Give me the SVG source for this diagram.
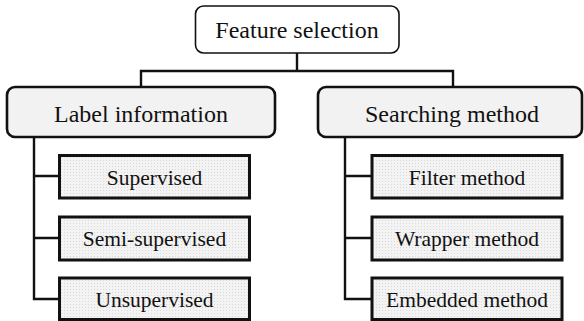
<svg xmlns="http://www.w3.org/2000/svg" width="584" height="321" viewBox="0 0 584 321">
<defs>
<pattern id="dots" width="3" height="3" patternUnits="userSpaceOnUse">
<rect width="3" height="3" fill="#f3f3f3"/>
<rect x="1" y="1" width="1" height="1" fill="#d9d9d9"/>
</pattern>
</defs>
<style>
text{fill:#111;text-anchor:middle}
.main{font-size:24px}
.sub{font-size:21.5px}
.root{fill:#fff;stroke:#111;stroke-width:1.6}
.cat{fill:#f2f2f2;stroke:#111;stroke-width:2.6}
.leaf{fill:url(#dots);stroke:#111;stroke-width:3}
.conn{fill:none;stroke:#111;stroke-width:2.4}
</style>
<rect width="584" height="321" fill="#fff"/>
<g id="connectors">
<path class="conn" d="M297,53 V71 M141,87 V71 H453 V87"/>
<path class="conn" d="M34,137 V299 H59.5 M34,176 H59.5 M34,238 H59.5"/>
<path class="conn" d="M345,137 V299 H372 M345,176 H372 M345,238 H372"/>
</g>
<g font-family="'Liberation Serif', 'DejaVu Serif', 'Times New Roman', serif">
<g id="feature-selection">
<rect class="root" x="195.5" y="6" width="203.5" height="47" rx="8"/>
<text class="main" x="297" y="38">Feature selection</text>
</g>
<g id="label-information">
<rect class="cat" x="7" y="87" width="268" height="50" rx="8"/>
<text class="main" x="141" y="122">Label information</text>
</g>
<g id="searching-method">
<rect class="cat" x="318" y="87" width="264" height="50" rx="8"/>
<text class="main" x="452" y="122">Searching method</text>
</g>
<g id="supervised">
<rect class="leaf" x="59.5" y="155.5" width="190" height="42.5"/>
<text class="sub" x="154.5" y="185">Supervised</text>
</g>
<g id="semi-supervised">
<rect class="leaf" x="59.5" y="217" width="190" height="43"/>
<text class="sub" x="154.5" y="245.5">Semi-supervised</text>
</g>
<g id="unsupervised">
<rect class="leaf" x="59.5" y="278" width="190" height="41.5"/>
<text class="sub" x="154.5" y="307">Unsupervised</text>
</g>
<g id="filter-method">
<rect class="leaf" x="372" y="155.5" width="190" height="42.5"/>
<text class="sub" x="467" y="185">Filter method</text>
</g>
<g id="wrapper-method">
<rect class="leaf" x="372" y="217" width="190" height="43"/>
<text class="sub" x="467" y="245.5">Wrapper method</text>
</g>
<g id="embedded-method">
<rect class="leaf" x="372" y="278" width="190" height="41.5"/>
<text class="sub" x="467" y="307">Embedded method</text>
</g>
</g>
</svg>
